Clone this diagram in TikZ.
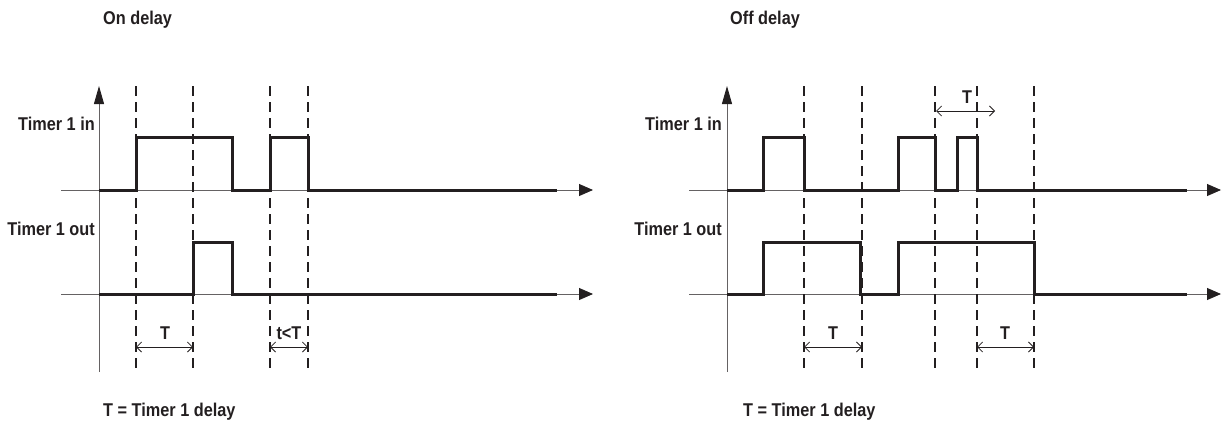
\documentclass[tikz,border=0pt]{standalone}
\usepackage{fontspec}
\setmainfont{Liberation Sans}[FakeStretch=0.88]
\usetikzlibrary{arrows.meta}
\definecolor{ink}{HTML}{231F20}
\begin{document}
\begin{tikzpicture}[x=1pt,y=-1pt,
  lbl/.style={font=\fontsize{18.5}{22}\selectfont\bfseries, text=ink, inner sep=0pt},
  axisline/.style={line width=0.9pt, draw=ink!70},
  yaxis/.style={axisline, -{Triangle[length=18pt,width=10pt,color=ink,fill=ink]}},
  xaxis/.style={axisline, -{Triangle[length=14pt,width=12pt,color=ink,fill=ink]}},
  signal/.style={line width=3pt, draw=ink, line join=miter},
  guide/.style={line width=1.5pt, draw=ink, dash pattern=on 10pt off 6pt},
  dimline/.style={line width=0.8pt, draw=ink, {Straight Barb[length=5pt,width=10pt]}-{Straight Barb[length=5pt,width=10pt]}}
]
\useasboundingbox (0,0) rectangle (1222,423);

% ================= On delay =================
\node[lbl, anchor=west] (t1) at (103,20) {On delay};
\node[lbl, anchor=east] (in1) at (95,124) {Timer 1 in};
\node[lbl, anchor=east] (out1) at (95,229) {Timer 1 out};
\node[lbl, anchor=west] (leg1) at (103,412) {T = Timer 1 delay};

\coordinate (v1b) at (99,372);
\coordinate (v1t) at (99,86);
\coordinate (a1s) at (61,190);
\coordinate (a1e) at (593,190);
\coordinate (b1s) at (61,294);
\coordinate (b1e) at (593,294);
\draw[yaxis] (v1b) -- (v1t);
\draw[xaxis] (a1s) -- (a1e);
\draw[xaxis] (b1s) -- (b1e);

\foreach \x in {136,193,270,308}{
  \draw[guide] (\x,86) -- (\x,373);
}

\draw[signal] (99,190) -- (136,190) -- (136,137) -- (232,137) -- (232,190)
  -- (270,190) -- (270,137) -- (308,137) -- (308,190) -- (557,190);
\draw[signal] (99,294) -- (193,294) -- (193,242) -- (232,242) -- (232,294) -- (557,294);

\coordinate (d1a) at (136,347);
\coordinate (d1b) at (193,347);
\coordinate (d2a) at (270,347);
\coordinate (d2b) at (308,347);
\draw[dimline] (d1a) -- (d1b);
\draw[dimline] (d2a) -- (d2b);
\node[lbl] (T1) at (165,333) {T};
\node[lbl] (tT) at (289,333) {t<T};

% ================= Off delay =================
\node[lbl, anchor=west] (t2) at (730,20) {Off delay};
\node[lbl, anchor=east] (in2) at (722,124) {Timer 1 in};
\node[lbl, anchor=east] (out2) at (722,229) {Timer 1 out};
\node[lbl, anchor=west] (leg2) at (743,412) {T = Timer 1 delay};

\coordinate (v2b) at (727,372);
\coordinate (v2t) at (727,86);
\coordinate (a2s) at (689,190);
\coordinate (a2e) at (1221,190);
\coordinate (b2s) at (689,294);
\coordinate (b2e) at (1221,294);
\draw[yaxis] (v2b) -- (v2t);
\draw[xaxis] (a2s) -- (a2e);
\draw[xaxis] (b2s) -- (b2e);

\foreach \x in {804,862,935,977,1034}{
  \draw[guide] (\x,86) -- (\x,373);
}

\draw[signal] (727,190) -- (763,190) -- (763,137) -- (804,137) -- (804,190)
  -- (898,190) -- (898,137) -- (935,137) -- (935,190) -- (957,190)
  -- (957,137) -- (977,137) -- (977,190) -- (1187,190);
\draw[signal] (727,294) -- (763,294) -- (763,242) -- (860,242) -- (860,294)
  -- (898,294) -- (898,242) -- (1034,242) -- (1034,294) -- (1187,294);

\coordinate (d3a) at (804,347);
\coordinate (d3b) at (862,347);
\coordinate (d4a) at (977,347);
\coordinate (d4b) at (1034,347);
\coordinate (d5a) at (936,111);
\coordinate (d5b) at (995,111);
\draw[dimline] (d3a) -- (d3b);
\draw[dimline] (d4a) -- (d4b);
\draw[dimline] (d5a) -- (d5b);
\node[lbl] (T2) at (833,333) {T};
\node[lbl] (T3) at (1005,333) {T};
\node[lbl] (T4) at (967,97) {T};
\end{tikzpicture}
\end{document}
